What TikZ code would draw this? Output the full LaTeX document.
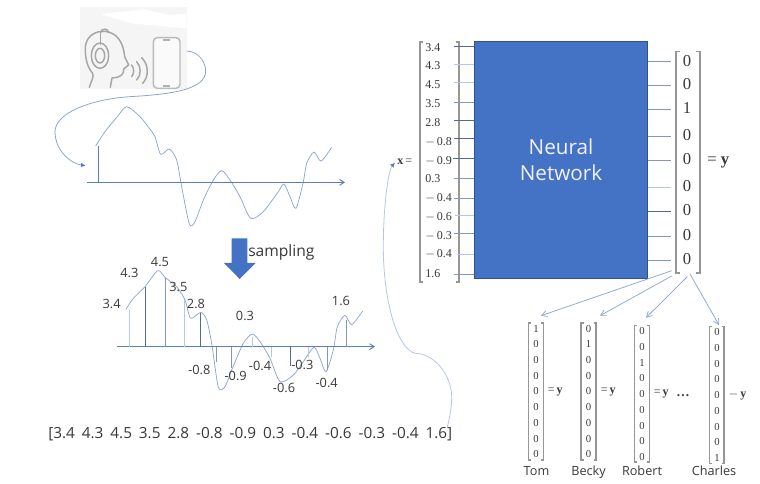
\documentclass[tikz,border=0pt]{standalone}
\usepackage{fontspec}
\setmainfont{Open Sans}
\newfontfamily\mathserif{Liberation Serif}
\usetikzlibrary{arrows.meta}
\definecolor{nnblue}{HTML}{4472C4}
\definecolor{nnedge}{HTML}{2F528F}
\definecolor{wave}{HTML}{8CA5D2}
\definecolor{axisblue}{HTML}{5B7DB8}
\definecolor{lightline}{HTML}{B4C7E6}
\definecolor{darkline}{HTML}{56698F}
\definecolor{midline}{HTML}{8397BD}
\definecolor{icongray}{HTML}{A6A6A6}
\definecolor{brk}{HTML}{969696}
\definecolor{ink}{HTML}{383838}
\tikzset{
  wavepath/.style={draw=wave,line width=.55pt,line join=round},
  axisline/.style={draw=axisblue,line width=.7pt,-{Straight Barb[length=3.5pt,width=4.5pt]}},
  swoop/.style={draw=#1,line width=.6pt},
  flow/.style={draw=wave,line width=.55pt,-{Straight Barb[length=4pt,width=4.5pt]}},
  lbl/.style={font=\fontsize{9.6pt}{11pt}\selectfont,text=ink,inner sep=0pt},
  entry/.style={font=\mathserif\fontsize{9pt}{10pt}\selectfont,text=ink,inner sep=0pt},
  bigentry/.style={font=\mathserif\fontsize{12.5pt}{13pt}\selectfont,text=ink,inner sep=0pt},
  smallentry/.style={font=\mathserif\fontsize{8pt}{9pt}\selectfont,text=ink,inner sep=0pt},
  eqsmall/.style={font=\mathserif\bfseries\fontsize{9pt}{10pt}\selectfont,text=ink,inner sep=0pt},
  person/.style={font=\fontsize{9.5pt}{11pt}\selectfont,text=ink,inner sep=0pt,anchor=base},
  icon/.style={draw=icongray,line width=1.1pt,line cap=round,line join=round},
  stick/.style={line width=.55pt}
}
\newcommand{\bracketpair}[6][brk]{%
  \draw[#1,line width=.9pt] (#2+#6,#4) -- (#2,#4) -- (#2,#5) -- (#2+#6,#5);
  \draw[#1,line width=.9pt] (#3-#6,#4) -- (#3,#4) -- (#3,#5) -- (#3-#6,#5);}
\begin{document}
\begin{tikzpicture}[x=.75pt,y=-.75pt]
\useasboundingbox (0,0) rectangle (760,484);
% ---- icon and first waveform (coordinates from a 3x grid)
\begin{scope}[shift={(30,0)},x=.25pt,y=-.25pt]
  \fill[black!4] (150,22) rectangle (470,267);
  \fill[white] (212,42) -- (340,28) -- (420,45) -- (470,40) -- (470,85) -- (300,70) -- cycle;
  \draw[icon] (178,262) .. controls (185,240) and (192,232) .. (188,220) .. controls (170,200) and (165,170) .. (166,140) .. controls (170,105) and (200,92) .. (225,94) .. controls (260,98) and (280,125) .. (284,170) -- (296,195) -- (281,207) .. controls (282,222) and (275,232) .. (246,234) -- (241,262);
  \draw[icon] (212,100) -- (212,133);
  \draw[icon] (212,98) .. controls (212,84) and (236,84) .. (236,98);
  \draw[icon] (210,167) ellipse [x radius=26,y radius=38];
  \draw[icon] (210,167) ellipse [x radius=14,y radius=22];
  \draw[icon] (305,195) .. controls (313,205) and (313,220) .. (305,230);
  \draw[icon] (320,185) .. controls (334,200) and (334,225) .. (320,240);
  \draw[icon] (335,173) .. controls (357,195) and (357,230) .. (338,250);
  \draw[draw=black!27,fill=black!2,line width=1.1pt,rounded corners=3pt] (370,113) rectangle (450,265);
  \draw[black!30,line width=1pt] (400,120) -- (420,120) (400,258) -- (420,258);
  \coordinate (phoneout) at (470,153);
  \coordinate (waveIn) at (167,497);
  \draw[wavepath] plot[smooth,tension=.45] coordinates {(197,438) (225,395) (262,350) (290,320) (330,350) (358,385) (375,410) (392,463) (418,447) (440,480) (455,560) (478,672) (495,665) (520,600) (550,540) (575,512) (600,540) (630,590) (662,655) (700,635) (745,575) (762,552) (780,590) (798,625) (820,545) (830,490) (852,456) (873,483) (905,442)};
  \draw[axisblue,line width=.7pt] (205,438) -- (205,547);
  \draw[axisline] (170,547) -- (945,547);
  \draw[swoop=wave,-{Latex[length=3.5pt,width=3.5pt,color=axisblue]}] (phoneout) .. controls (510,155) and (527,190) .. (527,213) .. controls (527,270) and (420,283) .. (300,290) .. controls (180,298) and (75,340) .. (75,395) .. controls (75,450) and (120,490) .. (waveIn);
\end{scope}
% ---- sampling arrow
\fill[nnblue] (231.7,238.3) -- (247.3,238.3) -- (247.3,263) -- (255.7,263) -- (239.7,279) -- (224,263) -- (231.7,263) -- cycle;
\node[lbl,anchor=west,font=\fontsize{11.7pt}{13pt}\selectfont] (samp) at (248,252) {sampling};
% ---- sampled waveform
\begin{scope}[shift={(90,230)},x=.25pt,y=-.25pt]
  \draw[wavepath] plot[smooth,tension=.45] coordinates {(108,238) (130,205) (165,170) (203,122) (225,142) (260,170) (285,210) (302,265) (332,247) (350,270) (365,340) (385,472) (405,470) (425,420) (460,340) (487,312) (510,335) (540,385) (570,455) (610,435) (640,395) (672,352) (690,385) (708,425) (730,360) (742,290) (765,256) (785,284) (818,243)};
  \draw[axisline] (80,350) -- (855,350);
  \foreach \px/\py/\pc in {118/240/lightline,165/172/darkline,226/145/midline,283/210/lightline,332/248/darkline,378/395/midline,423/415/midline,488/320/lightline,543/380/lightline,600/408/darkline,654/380/lightline,712/420/midline,768/270/midline}
    \draw[stick,\pc] (\px,350) -- (\px,\py);
  \foreach \nm/\px/\py/\tx in {a/65/222/3.4,b/118/130/4.3,c/210/95/4.5,d/265/172/3.5,e/318/222/2.8,f/465/257/0.3,g/753/213/1.6,h/328/420/-0.8,i/437/438/-0.9,j/510/407/-0.4,k/637/405/-0.3,l/582/473/-0.6,m/710/460/-0.4}
    \node[lbl] (s\nm) at (\px,\py) {\tx};
\end{scope}
\node[lbl,anchor=west,font=\fontsize{11.5pt}{13pt}\selectfont] (flat) at (48,434) {\spaceskip=5.2pt [3.4 4.3 4.5 3.5 2.8 -0.8 -0.9 0.3 -0.4 -0.6 -0.3 -0.4 1.6]};
% ---- network
\node[draw=nnedge,fill=nnblue,line width=.8pt,minimum width=129.75pt,minimum height=177.75pt,inner sep=0pt,anchor=north west,align=center,text=blue!5!white,font=\fontsize{15.5pt}{19.3pt}\selectfont] (nn) at (474,41) {Neural\\Network};
% ---- input vector
\bracketpair{420}{459}{42}{282}{3}
\foreach \n/\ty/\ly/\tx/\lc/\lx in {1/47.3/46/3.4/darkline/454,2/66/64.3/4.3/lightline/454,3/85/82.3/4.5/lightline/454,4/103.3/102.3/3.5/midline/454,5/122.3/120.3/2.8/darkline/454,6/141.7/138.3/$-$\,0.8/darkline/454,7/160.7/158.3/$-$\,0.9/darkline/453,8/179/178.3/0.3/midline/454,9/197.7/198.3/$-$\,0.4/midline/454,10/216.7/215.3/$-$\,0.6/lightline/455,11/235.7/233.3/$-$\,0.3/midline/454,12/254.3/254.3/$-$\,0.4/lightline/457,13/273.3/274.3/1.6/midline/454}{
  \node[entry,anchor=west] (in\n) at (425,\ty) {\tx};
  \coordinate (ic\n) at (\lx,\ly);
  \draw[\lc,line width=.6pt] (ic\n) -- (ic\n -| nn.west);
}
\node[eqsmall,anchor=west] (xeq) at (397,162) {x\,\mdseries=};
% ---- output vector
\bracketpair{676}{700}{51.7}{273}{4}
\foreach \n/\y/\tx/\lc in {1/61.7/0/midline,2/85.3/0/midline,3/109.3/1/midline,4/136.3/0/midline,5/160.3/0/midline,6/187/0/lightline,7/211.3/0/darkline,8/236.3/0/midline,9/260.3/0/midline}{
  \node[bigentry] (out\n) at (687,\y-1) {\tx};
  \coordinate (oc\n) at (671,\y);
  \draw[\lc,line width=.6pt] (oc\n -| nn.east) -- (oc\n);
}
\node[bigentry,anchor=west] (yeq) at (707,162) {= \textbf{y}};
% ---- bottom one-hot vectors
\foreach \v/\vx/\vl/\vr/\vt/\vb/\hot in {t/536/528.7/543.7/323/460/1,b/588.5/581/596/323/460/2,r/642/634.7/649.7/325.7/462/3,c/717/709.7/724/326.7/463.3/9}{
  \bracketpair{\vl}{\vr}{\vt}{\vb}{2.5}
  \foreach \k in {1,...,9}{
    \pgfmathtruncatemacro{\val}{\k==\hot?1:0}
    \node[smallentry] (v\v\k) at (\vx,{\vt+5.7+(\k-1)*15.7}) {\val};
  }
}
\node[eqsmall,anchor=west] (eqt) at (547.5,392.3) {\mdseries=\,\bfseries y};
\node[eqsmall,anchor=west] (eqb) at (600.5,392.3) {\mdseries=\,\bfseries y};
\node[eqsmall,anchor=west] (eqr) at (653.5,394) {\mdseries=\,\bfseries y};
\node[font=\mathserif\bfseries\fontsize{10pt}{11pt}\selectfont,text=ink,inner sep=0pt] (dots) at (683,396) {\dots};
\node[eqsmall,anchor=west] (eqc) at (728.5,395) {\mdseries$-$\,\bfseries y};
\node[person] (tom) at (536.5,475.5) {Tom};
\node[person] (becky) at (588.5,475.5) {Becky};
\node[person] (robert) at (642,475.5) {Robert};
\node[person] (charles) at (714,475.5) {Charles};
% ---- connectors
\coordinate (c1) at (671.7,270.7);
\coordinate (c2) at (671.7,276);
\coordinate (c3) at (687.3,276.7);
\coordinate (c4) at (690,274);
\coordinate (t1) at (541,315.7);
\coordinate (t2) at (600,315.7);
\coordinate (t3) at (646,317.7);
\coordinate (t4) at (719,325);
\draw[flow] (c1) -- (t1);
\draw[flow] (c2) -- (t2);
\draw[flow] (c3) -- (t3);
\draw[flow] (c4) -- (t4);
\coordinate (flatend) at (447.3,426.7);
\coordinate (xin) at (395,162.7);
\draw[swoop=lightline,-{Latex[length=3.5pt,width=3.5pt,color=axisblue]}] (flatend) .. controls (450,416.7) and (451.7,406.7) .. (451.7,396.7) .. controls (451,373.3) and (433.3,353.3) .. (415,353.3) .. controls (396.7,348.3) and (383.3,300) .. (383.3,246.7) .. controls (383.3,206.7) and (388.3,170) .. (xin);
\end{tikzpicture}
\end{document}
